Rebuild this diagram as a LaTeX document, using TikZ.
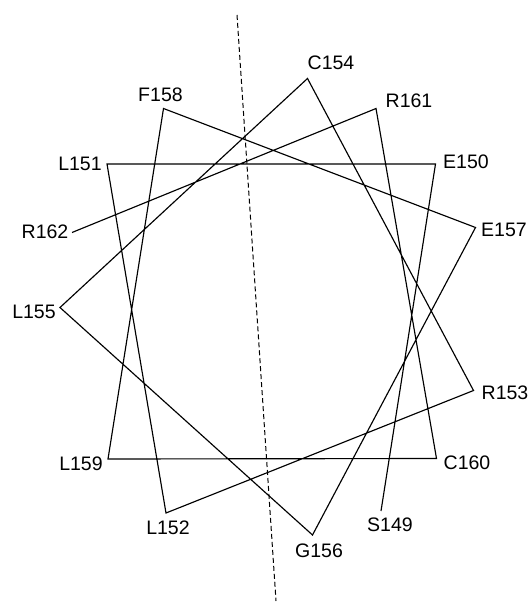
\documentclass[tikz,border=0pt]{standalone}
\usepackage{fontspec}
\setmainfont{Liberation Sans}
\begin{document}
\begin{tikzpicture}[x=1bp,y=-1bp,
  res/.style={inner sep=0pt,font=\fontsize{19.6}{22}\selectfont},
  wheel/.style={line width=1.15bp,line join=miter},
  axisline/.style={line width=1bp,dash pattern=on 5bp off 3bp}]
\useasboundingbox (0,0) rectangle (530,603);
% vertices
\coordinate (v149) at (381,511);
\coordinate (v150) at (435.5,164);
\coordinate (v151) at (107,164);
\coordinate (v152) at (166,513);
\coordinate (v153) at (473.5,390.5);
\coordinate (v154) at (307.5,78.5);
\coordinate (v155) at (60,307.5);
\coordinate (v156) at (312.5,535);
\coordinate (v157) at (475.5,227.5);
\coordinate (v158) at (163.5,108.5);
\coordinate (v159) at (108,459);
\coordinate (v160) at (436.5,458.5);
\coordinate (v161) at (376,108.5);
\coordinate (v162) at (72,232.5);
% labels
\node[res] (l149) at (390,525) {S149};
\node[res] (l150) at (466,162) {E150};
\node[res] (l151) at (80,164) {L151};
\node[res] (l152) at (168,528) {L152};
\node[res] (l153) at (505,393) {R153};
\node[res] (l154) at (331,63) {C154};
\node[res] (l155) at (34,312) {L155};
\node[res] (l156) at (319,551) {G156};
\node[res] (l157) at (504,230) {E157};
\node[res] (l158) at (160.5,94.5) {F158};
\node[res] (l159) at (81,464) {L159};
\node[res] (l160) at (467,463) {C160};
\node[res] (l161) at (409,100.5) {R161};
\node[res] (l162) at (45,231.5) {R162};
% wheel path
\draw[wheel] (v149) -- (v150) -- (v151) -- (v152) -- (v153) -- (v154) -- (v155)
  -- (v156) -- (v157) -- (v158) -- (v159) -- (v160) -- (v161) -- (v162);
% dashed axis
\coordinate (atop) at (237,15);
\coordinate (abot) at (276,601);
\draw[axisline] (atop) -- (abot);
\end{tikzpicture}
\end{document}
